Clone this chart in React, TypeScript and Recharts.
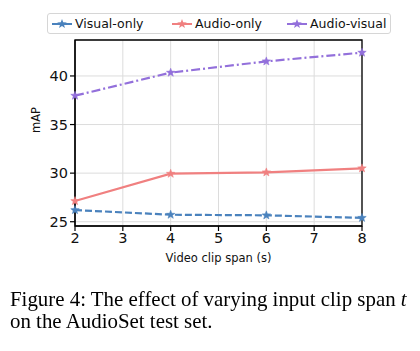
import React from "react";
import {
  CartesianGrid,
  Line,
  LineChart,
  ReferenceArea,
  XAxis,
  YAxis,
} from "recharts";

const spans = [2, 4, 6, 8];
const visualOnly = [26.2, 25.72, 25.66, 25.4];
const audioOnly = [27.13, 29.94, 30.08, 30.5];
const audioVisual = [37.97, 40.34, 41.5, 42.4];
const xTicks = [2, 3, 4, 5, 6, 7, 8];
const yTicks = [25, 30, 35, 40];
const yDomain: [number, number] = [24.56, 43.7];

const data = spans.map((s, i) => ({
  span: s,
  visual: visualOnly[i],
  audio: audioOnly[i],
  av: audioVisual[i],
}));

const font = "DejaVu Sans, sans-serif";

function starPath(cx: number, cy: number, r: number) {
  const pts: string[] = [];
  for (let i = 0; i < 10; i++) {
    const rad = i % 2 === 0 ? r : r * 0.42;
    const a = -Math.PI / 2 + (i * Math.PI) / 5;
    pts.push(`${cx + rad * Math.cos(a)},${cy + rad * Math.sin(a)}`);
  }
  return `M${pts.join("L")}Z`;
}

const star = (color: string) => (props: any) => {
  const { cx, cy, index } = props;
  if (cx == null || cy == null) return <g key={index} />;
  return <path key={index} d={starPath(cx, cy, 4.5)} fill={color} stroke={color} strokeWidth={0.5} />;
};

const series = [
  { key: "visual", name: "Visual-only", color: "#4a82bd", dash: "7 3" },
  { key: "audio", name: "Audio-only", color: "#f08080", dash: undefined },
  { key: "av", name: "Audio-visual", color: "#9370db", dash: "9 3 2 3" },
];

const legendX = [4, 124, 239];

function LegendBox() {
  return (
    <div
      style={{
        position: "absolute",
        left: 47,
        top: 13,
        width: 342,
        height: 19,
        border: "1px solid #d6d6d6",
        borderRadius: 3,
        background: "#fff",
        fontFamily: font,
        fontSize: 12.5,
      }}
    >
      {series.map((s, i) => (
        <div
          key={s.key}
          style={{ position: "absolute", left: legendX[i], top: 1, display: "flex", alignItems: "center", height: 17 }}
        >
          <svg width={20} height={17}>
            <line x1={0} y1={9} x2={20} y2={9} stroke={s.color} strokeWidth={2} />
            <path d={starPath(10, 9, 5)} fill={s.color} />
          </svg>
          <span style={{ marginLeft: 3, color: "#111" }}>{s.name}</span>
        </div>
      ))}
    </div>
  );
}

export default function App() {
  return (
    <div style={{ position: "fixed", left: 0, top: 0, width: 420, height: 351, background: "#fff" }}>
      <LineChart
        width={420}
        height={270}
        data={data}
        margin={{ top: 40, right: 58, left: 0, bottom: 0 }}
      >
        <CartesianGrid stroke="#dcdcdc" strokeWidth={1} verticalValues={xTicks} />
        <XAxis
          dataKey="span"
          type="number"
          domain={[2, 8]}
          ticks={xTicks}
          interval={0}
          height={44}
          axisLine={{ stroke: "#000", strokeWidth: 1.2 }}
          tickLine={{ stroke: "#000", strokeWidth: 1.2 }}
          tickSize={5}
          tick={{ fontSize: 14.5, fill: "#111", fontFamily: font }}
          label={{ value: "Video clip span (s)", position: "insideBottom", offset: 8, fontSize: 11.5, fill: "#111", fontFamily: font }}
        />
        <YAxis
          type="number"
          domain={yDomain}
          ticks={yTicks}
          allowDataOverflow
          width={75}
          axisLine={{ stroke: "#000", strokeWidth: 1.2 }}
          tickLine={{ stroke: "#000", strokeWidth: 1.2 }}
          tickSize={5}
          tick={{ fontSize: 14.5, fill: "#111", fontFamily: font }}
          label={{ value: "mAP", angle: -90, position: "insideLeft", offset: 36, fontSize: 11.5, fill: "#111", fontFamily: font }}
        />
        <ReferenceArea
          x1={2}
          x2={8}
          y1={yDomain[0]}
          y2={yDomain[1]}
          fill="none"
          fillOpacity={0}
          stroke="#000"
          strokeWidth={1.3}
          ifOverflow="visible"
        />
        {series.map((s) => (
          <Line
            key={s.key}
            dataKey={s.key}
            name={s.name}
            type="linear"
            stroke={s.color}
            strokeWidth={2.2}
            strokeDasharray={s.dash}
            dot={star(s.color)}
            activeDot={false}
            isAnimationActive={false}
          />
        ))}
      </LineChart>
      <LegendBox />
      <div
        style={{
          position: "absolute",
          left: 10,
          top: 288,
          width: 415,
          fontFamily: "Liberation Serif, Times New Roman, serif",
          fontSize: 20.9,
          lineHeight: "22px",
          color: "#000",
          whiteSpace: "nowrap",
        }}
      >
        <div>
          Figure 4: The effect of varying input clip span <i>t</i>
        </div>
        <div>on the AudioSet test set.</div>
      </div>
    </div>
  );
}
